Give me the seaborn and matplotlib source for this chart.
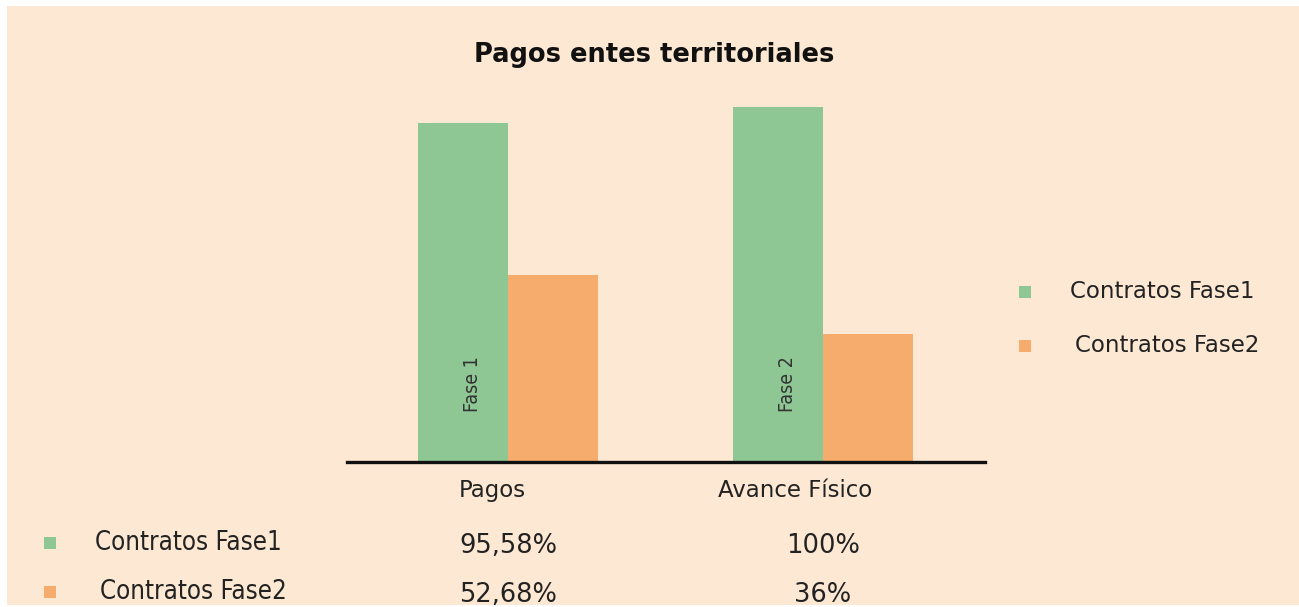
import matplotlib
matplotlib.use("Agg")
import matplotlib.pyplot as plt
from matplotlib.patches import Rectangle
from matplotlib.transforms import blended_transform_factory
import seaborn as sns
import pandas as pd

# data
categories = ["Pagos", "Avance Físico"]
series = ["Contratos Fase1", "Contratos Fase2"]
fase1_values = [95.58, 100]
fase2_values = [52.68, 36]
fase1_text = ["95,58%", "100%"]
fase2_text = ["52,68%", "36%"]
bar_labels = ["Fase 1", "Fase 2"]

green = "#8EC794"
orange = "#F5AC6C"
beige = "#FDE9D3"

df = pd.DataFrame(
    {
        "categoria": categories * 2,
        "serie": [series[0]] * 2 + [series[1]] * 2,
        "valor": fase1_values + fase2_values,
    }
)

sns.set_style("white")
plt.rcParams["font.family"] = ["DejaVu Sans"]

fig = plt.figure(figsize=(12.99, 6.07), dpi=100, facecolor="white")
# beige panel (small white margin at top/left like the reference)
fig.patches.append(
    Rectangle((7 / 1299, 2 / 607), 1 - 7 / 1299, 1 - 8 / 607,
              transform=fig.transFigure, facecolor=beige, edgecolor="none", zorder=-10)
)

ax = fig.add_axes([347 / 1299, 145 / 607, 638 / 1299, 355 / 607])
ax.set_facecolor("none")
ax.set_zorder(5)
sns.barplot(
    data=df, x="categoria", y="valor", hue="serie",
    palette=[green, orange], width=0.571, saturation=1,
    linewidth=0, legend=False, ax=ax,
)
ax.set_xlim(-0.511, 1.514)
ax.set_ylim(0, 100)
for s in ["top", "left", "right"]:
    ax.spines[s].set_visible(False)
ax.spines["bottom"].set_linewidth(2.4)
ax.spines["bottom"].set_color("#111111")
ax.set_xticks([])
ax.set_yticks([])
ax.set_xlabel("")
ax.set_ylabel("")

# rotated labels inside green bars
bw = 0.571 / 2
for i, lab in enumerate(bar_labels):
    ax.text(i - bw / 2 + 0.03, 22, lab, rotation=90, ha="center", va="center",
            fontsize=14, color="#333333", fontstretch="condensed")

# category labels under the axis
for i, lab in enumerate(categories):
    ax.text(i - 0.05 - 0.04 * i, -8, lab, ha="center", va="center",
            fontsize=16.5, color="#222222", clip_on=False)

fig.text(654 / 1299, 1 - 55 / 607, "Pagos entes territoriales",
         ha="center", va="center", fontsize=18.5, fontweight="bold", color="#111111")

# right legend
for j, (lab, col) in enumerate(zip(series, [green, orange])):
    yc = 1 - (292 + 54 * j) / 607
    fig.patches.append(
        Rectangle((1019 / 1299, yc - 6 / 607), 12 / 1299, 12 / 607,
                  transform=fig.transFigure, facecolor=col, edgecolor="none")
    )
    fig.text((1070 + 5 * j) / 1299, yc, lab, ha="left", va="center",
             fontsize=16.5, color="#222222")

# data table at the bottom
trans = blended_transform_factory(ax.transData, fig.transFigure)
rows = [(series[0], green, fase1_text, 543), (series[1], orange, fase2_text, 592)]
for j, (lab, col, vals, ypx) in enumerate(rows):
    yc = 1 - ypx / 607
    fig.patches.append(
        Rectangle((44 / 1299, yc - 6 / 607), 12 / 1299, 12 / 607,
                  transform=fig.transFigure, facecolor=col, edgecolor="none")
    )
    fig.text((95 + 5 * j) / 1299, yc, lab, ha="left", va="center",
             fontsize=18.5, color="#222222", fontstretch="condensed")
    for i, v in enumerate(vals):
        ax.text(i, 1 - (ypx + 3) / 607, v, transform=trans, ha="center", va="center",
                fontsize=18.5, color="#222222", clip_on=False)

fig.savefig("out.png", dpi=100, facecolor="white")
